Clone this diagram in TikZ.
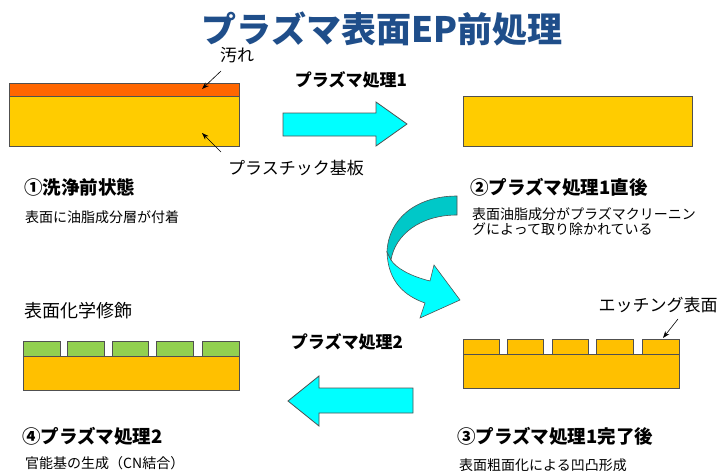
\documentclass[tikz,border=0pt]{standalone}
\usepackage{fontspec}
\setmainfont{Noto Sans CJK JP}
\usetikzlibrary{arrows.meta}
\definecolor{titleblue}{HTML}{1F4E8A}
\definecolor{dirt}{HTML}{FF6600}
\definecolor{sub1}{HTML}{FFCC00}
\definecolor{sub2}{HTML}{FFC000}
\definecolor{mod}{HTML}{92D050}
\definecolor{edge}{HTML}{505050}
\definecolor{cyanA}{HTML}{00FFFF}
\definecolor{cyanD}{HTML}{00C8C8}
\begin{document}
\begin{tikzpicture}[x=1pt,y=-1pt,
  layer/.style={draw=edge, line width=0.8pt, inner sep=0pt, outer sep=0pt, anchor=north west},
  head/.style={font=\fontsize{18.5}{22}\selectfont\bfseries, anchor=west, inner sep=0pt},
  small/.style={font=\fontsize{14}{17}\selectfont, anchor=west, inner sep=0pt, align=left},
  lbl/.style={font=\fontsize{17}{20}\selectfont, inner sep=0pt},
  proc/.style={font=\fontsize{17}{20}\selectfont\bfseries, inner sep=0pt},
  pointer/.style={-{Stealth[length=7pt,width=5pt]}, line width=0.6pt, black},
  blockarrow/.style={fill=cyanA, draw=edge, line width=0.8pt, line join=miter}
]
\useasboundingbox (0,0) rectangle (724,471);

% title
\node[font=\fontsize{35}{38}\selectfont\bfseries, text=titleblue, inner sep=0pt] (title) at (382,29) {プラズマ表面EP前処理};

% ---- state 1
\node[layer, fill=dirt, minimum width=230pt, minimum height=13pt] (s1dirt) at (9,83) {};
\node[layer, fill=sub1, minimum width=230pt, minimum height=50pt] (s1sub) at (9,96) {};
\node[lbl] (lblDirt) at (237,55) {汚れ};
\node[lbl] (lblSub) at (296,168) {プラスチック基板};
\coordinate (pDirt) at (202,89);
\coordinate (pSub) at (202,133);
\draw[pointer] (221,71) -- (pDirt);
\draw[pointer] (221,152) -- (pSub);
\node[head] (h1) at (24,187) {①洗浄前状態};
\node[small] (t1) at (25,217) {表面に油脂成分層が付着};

% arrow 1
\node[proc] (p1) at (351,80) {プラズマ処理1};
\draw[blockarrow] (283,113) -- (376,113) -- (376,102) -- (407,124) -- (376,146) -- (376,136) -- (283,136) -- cycle;

% ---- state 2
\node[layer, fill=sub1, minimum width=229pt, minimum height=50pt] (s2sub) at (463,96) {};
\node[head] (h2) at (470,187) {②プラズマ処理1直後};
\node[small] (t2) at (472,222) {表面油脂成分がプラズマクリーニン\\[-2pt]グによって取り除かれている};

% curved arrow
\fill[cyanA, draw=edge, line width=0.6pt] (387,252) .. controls (388,282) and (405,296) .. (425,303)
  -- (420,318) -- (460,300) -- (434,265) -- (430,281)
  .. controls (410,276) and (396,268) .. (391,260) -- cycle;
\fill[cyanD, draw=edge, line width=0.6pt] (457,196) .. controls (415,196) and (388,220) .. (387,252)
  -- (391,260) .. controls (395,235) and (420,215) .. (457,215) -- cycle;

% ---- state 3
\node[layer, fill=sub2, minimum width=216pt, minimum height=34pt] (s3sub) at (463,354) {};
\foreach \i/\a/\b in {1/463/499, 2/507/543, 3/552/588, 4/596/633, 5/642/679}{
  \node[layer, fill=sub2, minimum width={\b-\a}, minimum height=15pt] (s3b\i) at (\a,339) {};
}
\node[lbl] (lblEtch) at (658,305) {エッチング表面};
\coordinate (pEtch) at (663,338);
\draw[pointer] (678,319) -- (pEtch);
\node[head] (h3) at (457,436) {③プラズマ処理1完了後};
\node[small] (t3) at (459,465) {表面粗面化による凹凸形成};

% arrow 2
\node[proc] (p2) at (347,342) {プラズマ処理2};
\draw[blockarrow] (413,388) -- (319,388) -- (319,376) -- (288,401) -- (319,426) -- (319,413) -- (413,413) -- cycle;

% ---- state 4
\node[layer, fill=sub2, minimum width=216pt, minimum height=34pt] (s4sub) at (23,356) {};
\foreach \i/\a/\b in {1/23/60, 2/67/104, 3/112/148, 4/156/193, 5/202/239}{
  \node[layer, fill=mod, minimum width={\b-\a}, minimum height=15pt] (s4b\i) at (\a,341) {};
}
\node[font=\fontsize{18}{21}\selectfont, anchor=west, inner sep=0pt] (lblMod) at (24,311) {表面化学修飾};
\node[head] (h4) at (22,436) {④プラズマ処理2};
\node[small] (t4) at (25,463) {官能基の生成（CN結合）};
\end{tikzpicture}
\end{document}
